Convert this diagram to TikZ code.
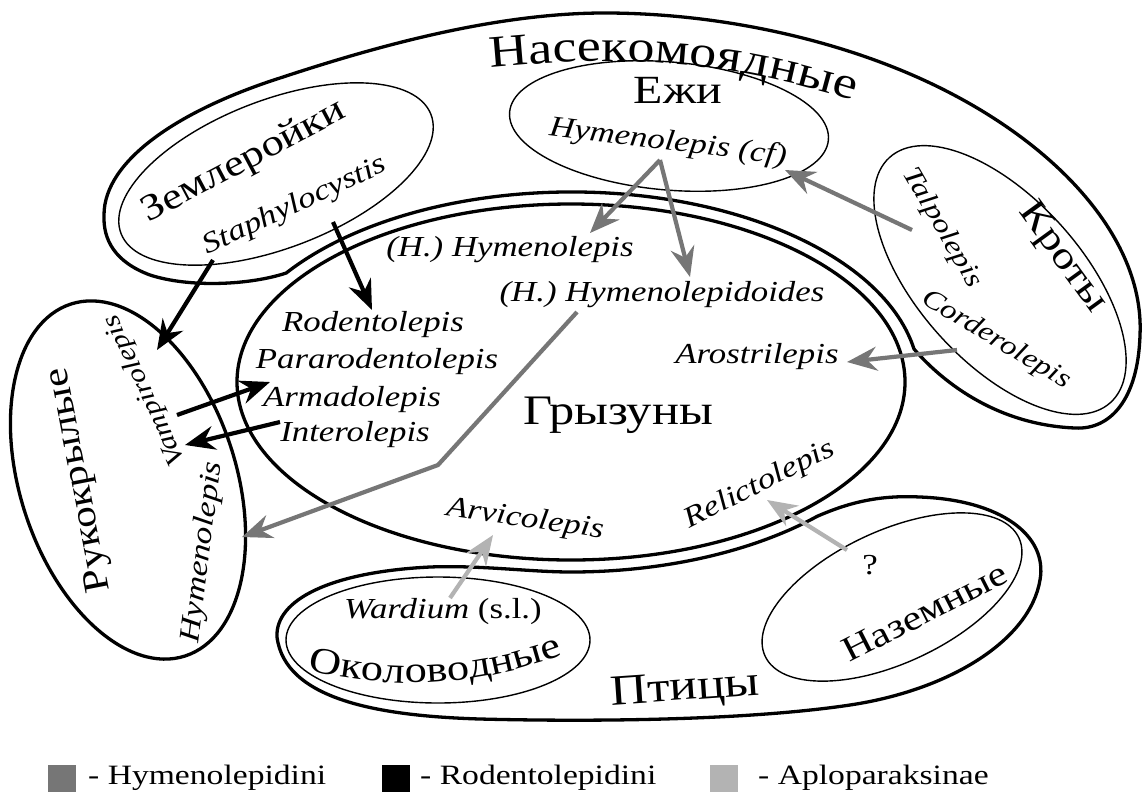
\documentclass[tikz,border=0pt]{standalone}
\usepackage{fontspec}
\setmainfont{Liberation Serif}[FakeStretch=1.2]
\usetikzlibrary{arrows.meta,decorations.text}
\definecolor{hym}{HTML}{767676}
\definecolor{apl}{HTML}{B3B3B3}
\tikzset{
  thickring/.style={line width=3.3pt},
  thinring/.style={line width=1.4pt},
  it/.style={font=\fontsize{29}{29}\selectfont\itshape, inner sep=0pt},
  ru/.style={font=\fontsize{#1}{#1}\selectfont, inner sep=0pt},
  lg/.style={font=\fontsize{28}{28}\selectfont, inner sep=0pt, anchor=west},
  sq/.style={minimum width=28pt, minimum height=27pt, inner sep=0pt},
  arr/.style={line width=4.2pt, -{Stealth[length=30pt,width=24pt,inset=10pt]}},
  hymarr/.style={arr, draw=hym},
  rodarr/.style={arr, draw=black},
  aplarr/.style={arr, draw=apl},
}
\begin{document}
\begin{tikzpicture}[x=1pt,y=-1pt]
\useasboundingbox[fill=white] (0,0) rectangle (1142,793);

% Insectivores band
\draw[thickring] (104,215) .. controls (104,160) and (180,110) .. (280,78)
  .. controls (380,45) and (500,12) .. (610,13)
  .. controls (720,14) and (820,38) .. (893,67)
  .. controls (1040,125) and (1145,230) .. (1140,335)
  .. controls (1138,400) and (1110,430) .. (1075,428)
  .. controls (1000,425) and (945,385) .. (914,349)
  arc[start angle=-10, end angle=-145, x radius=348, y radius=190]
  .. controls (250,285) and (190,288) .. (150,275)
  .. controls (115,262) and (103,240) .. (104,215) -- cycle;

% Birds band
\draw[thickring] (277,637) .. controls (275,600) and (330,572) .. (430,567)
  .. controls (480,565) and (530,572) .. (571,572)
  arc[start angle=90, end angle=45, x radius=348, y radius=190]
  .. controls (850,502) and (880,495) .. (920,497)
  .. controls (1000,500) and (1048,535) .. (1040,580)
  .. controls (1030,640) and (950,690) .. (850,705)
  .. controls (750,720) and (600,722) .. (480,719)
  .. controls (380,716) and (285,700) .. (277,637) -- cycle;

% Rodents
\draw[thickring] (571,382) ellipse [x radius=334, y radius=178];
% Bats
\draw[thickring, rotate around={18:(128,480)}] (128,480) ellipse [x radius=108, y radius=185];
% inner ellipses
\draw[thinring, rotate around={-5:(669,126)}] (669,126) ellipse [x radius=160, y radius=64];
\draw[thinring, rotate around={21:(276,174)}] (276,174) ellipse [x radius=166, y radius=74];
\draw[thinring, rotate around={-48:(1000,280)}] (1000,280) ellipse [x radius=165, y radius=82];
\draw[thinring, rotate around={25:(892,597)}] (892,597) ellipse [x radius=140, y radius=66];
\draw[thinring] (438,640) ellipse [x radius=152, y radius=63];

% big labels
\path[decorate, decoration={text along path, text format delimiters={|}{|},
  text={|\fontsize{45}{45}\selectfont|Насекомоядные}, text align=center}]
  (468,70) .. controls (610,55) and (720,55) .. (875,108);
\node[ru=40] (ezhi) at (678,90) {Ежи};
\node[ru=37, rotate=28] (zeml) at (244,162) {Землеройки};
\node[ru=38, rotate=-54] (kroty) at (1062,258) {Кроты};
\node[ru=36, rotate=101] (ruk) at (80,480) {Рукокрылые};
\node[ru=42] (gryz) at (618,415) {Грызуны};
\node[ru=43, rotate=4] (ptic) at (685,690) {Птицы};
\path[decorate, decoration={text along path, text format delimiters={|}{|},
  text={|\fontsize{37}{37}\selectfont|Околоводные}, text align=center}]
  (290,665) .. controls (380,692) and (480,690) .. (580,648);
\node[ru=35, rotate=27] (nazem) at (925,612) {Наземные};

% genus labels
\node[it, rotate=-7] (hcf) at (668,143) {Hymenolepis (cf)};
\node[it, rotate=25] (staph) at (295,206) {Staphylocystis};
\node[it] (hh) at (510,250) {(H.) Hymenolepis};
\node[it] (hd) at (662,295) {(H.) Hymenolepidoides};
\node[it] (rod) at (373,325) {Rodentolepis};
\node[it] (para) at (377,362) {Pararodentolepis};
\node[it] (arma) at (352,400) {Armadolepis};
\node[it] (inter) at (355,435) {Interolepis};
\node[it] (aro) at (757,357) {Arostrilepis};
\node[it, rotate=-8] (arv) at (525,520) {Arvicolepis};
\node[it, rotate=27] (rel) at (760,485) {Relictolepis};
\node[it] (ward) at (443,612) {Wardium \upshape(s.l.)};
\node[ru=29] (q) at (870,565) {?};
\node[it, rotate=-60, font=\fontsize{27}{27}\selectfont\itshape] (talp) at (942,228) {Talpolepis};
\node[it, rotate=-31, font=\fontsize{27}{27}\selectfont\itshape] (cord) at (996,340) {Corderolepis};
\node[it, rotate=115, font=\fontsize{26}{26}\selectfont\itshape] (vamp) at (145,390) {Vampirolepis};
\node[it, rotate=83] (bhym) at (203,552) {Hymenolepis};

% arrow anchors
\coordinate (hcfS) at (660,160);
\coordinate (hhT) at (590,233);
\coordinate (hdT) at (690,277);
\coordinate (talS) at (912,230);
\coordinate (talT) at (785,170);
\coordinate (corS) at (957,350);
\coordinate (aroT) at (847,362);
\coordinate (hidS) at (577,312);
\coordinate (bend) at (438,465);
\coordinate (bhT) at (242,537);
\coordinate (warS) at (450,598);
\coordinate (arvT) at (493,535);
\coordinate (qS) at (847,550);
\coordinate (relT) at (767,500);
\coordinate (stS1) at (213,260);
\coordinate (vamT) at (157,350);
\coordinate (stS2) at (333,222);
\coordinate (rodT) at (372,310);
\coordinate (vamS) at (177,415);
\coordinate (armT) at (270,382);
\coordinate (intS) at (280,422);
\coordinate (vamT2) at (185,445);

% arrows
\draw[rodarr] (stS1) -- (vamT);
\draw[rodarr] (stS2) -- (rodT);
\draw[rodarr] (vamS) -- (armT);
\draw[rodarr] (intS) -- (vamT2);
\draw[hymarr] (hcfS) -- (hhT);
\draw[hymarr] (hcfS) -- (hdT);
\draw[hymarr] (talS) -- (talT);
\draw[hymarr] (corS) -- (aroT);
\draw[hymarr] (hidS) -- (bend) -- (bhT);
\draw[aplarr] (warS) -- (arvT);
\draw[aplarr] (qS) -- (relT);

% legend
\node[sq, fill=hym] (sq1) at (62,778) {};
\node[lg] (l1) at (88,778) {- Hymenolepidini};
\node[sq, fill=black] (sq2) at (396,778) {};
\node[lg] (l2) at (420,778) {- Rodentolepidini};
\node[sq, fill=apl] (sq3) at (724,778) {};
\node[lg] (l3) at (758,778) {- Aploparaksinae};
\end{tikzpicture}
\end{document}
